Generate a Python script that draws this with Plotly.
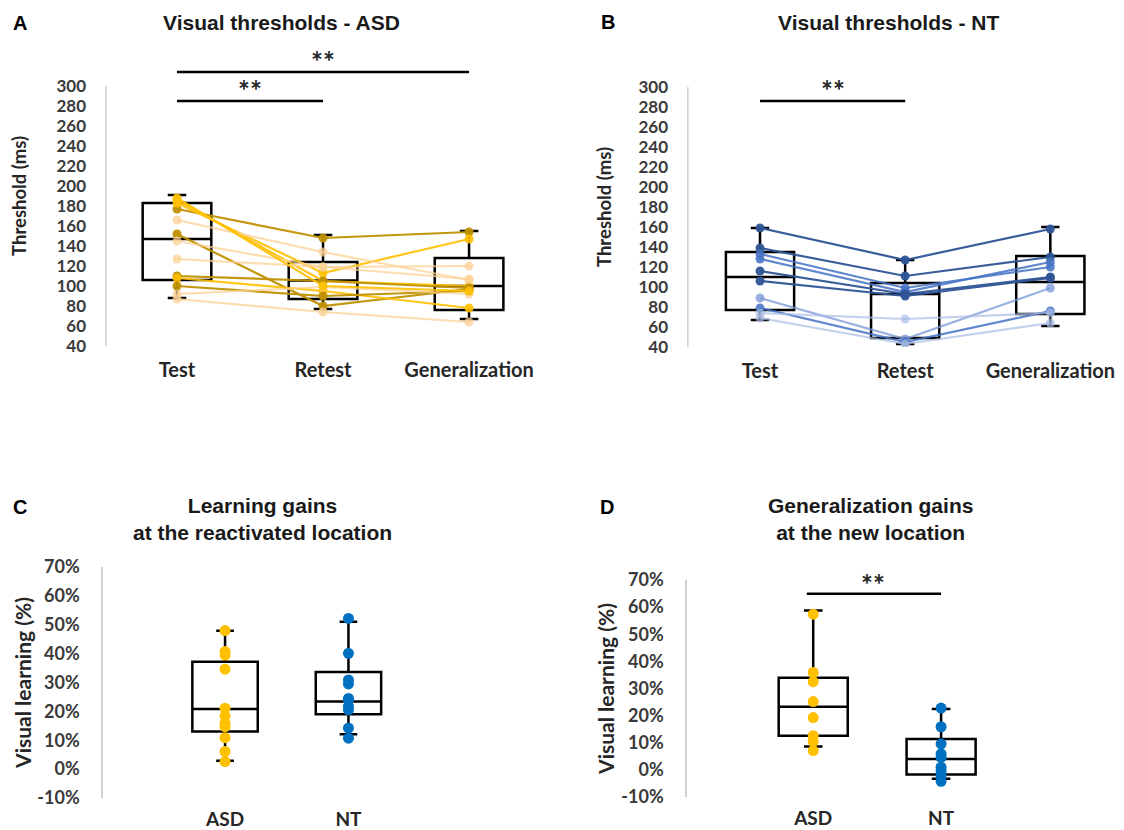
import plotly.graph_objects as go

W, H = 1124, 830

# ---------------- data ----------------
phases = ["Test", "Retest", "Generalization"]

# Panel A: ASD individual thresholds (ms)
asd_test = [177, 186, 183, 166, 152, 145, 127, 110, 108, 100, 92, 87, 188]
asd_retest = [148, 105, 113, 134, 80, 119, 119, 105, 95, 90, 99, 74, 100]
asd_general = [154, 100, 147, 106, 97, 120, 107, 98, 78, 95, 92, 64, 95]
asd_shade = ["dark", "mid", "mid", "light", "dark", "light", "light", "dark", "mid", "dark", "light", "light", "mid"]

# Panel A box statistics (Test, Retest, Generalization)
asd_q1 = [106, 87, 76]
asd_median = [147, 105.5, 100]
asd_q3 = [183, 124, 128]
asd_low = [88, 77, 67]
asd_high = [191, 151, 155]

# Panel B: NT individual thresholds (ms)
nt_test = [159, 139, 133, 128, 116, 106, 89, 79, 74, 69]
nt_retest = [127, 111, 99, 95, 93, 91, 48, 45, 68, 43]
nt_general = [158, 130, 120, 125, 110, 109, 99, 76, 74, 64]
nt_shade = ["dark", "dark", "mid", "mid", "dark", "dark", "light", "mid", "lighter", "lighter"]

nt_q1 = [77, 49, 73]
nt_median = [110, 93, 105]
nt_q3 = [135, 104, 131]
nt_low = [67, 43, 61]
nt_high = [159, 127, 160]

# Panel C: learning gains at the reactivated location (%)
groups = ["ASD", "NT"]
c_asd = [48, 40.7, 39.5, 34.6, 21.1, 18.4, 15.9, 14.7, 10.9, 6.1, 2.6]
c_nt = [52.2, 40.1, 30.9, 29.5, 24.5, 24, 21.7, 20.5, 14.2, 10.7]
c_q1 = [13, 19]
c_median = [20.8, 23.4]
c_q3 = [37.2, 33.6]
c_low = [2.9, 12.1]
c_high = [47.9, 51]

# Panel D: generalization gains at the new location (%)
d_asd = [57.4, 35.9, 32.5, 25.2, 19.3, 12.6, 10.5, 7.1]
d_nt = [22.8, 15.9, 9.6, 5.9, 4.6, 1.0, -0.3, -2.1, -4.2]
d_q1 = [12.6, -1.7]
d_median = [23.3, 4]
d_q3 = [34, 11.4]
d_low = [8.6, -3.3]
d_high = [58.8, 22.4]

ms_ticks = list(range(40, 301, 20))
pct_ticks = list(range(-10, 71, 10))
pct_labels = [f"{v}%" for v in pct_ticks]

# ---------------- styles ----------------
asd_colors = {"dark": "rgba(191,144,0,0.95)", "mid": "rgba(255,192,0,0.9)", "light": "rgba(252,210,150,0.75)"}
nt_colors = {"dark": "rgba(47,85,151,0.95)", "mid": "rgba(68,114,196,0.85)",
             "light": "rgba(120,150,215,0.75)", "lighter": "rgba(170,190,230,0.7)"}
ASD_DOT = "#FFC000"
NT_DOT = "#0070C0"
AXIS_GRAY = "#d0d0d0"
TICK_FONT_AB = dict(family="Lato", size=17, color="#3a3a3a", weight="bold")
TICK_FONT_CD = dict(family="Lato", size=18, color="#3a3a3a", weight="bold")
XTICK_FONT = dict(family="Lato", size=20, color="#262626", weight="bold")
XTICK_FONT_CD = dict(family="Lato", size=19, color="#262626", weight="bold")
TITLE_FONT_AB = dict(family="Lato", size=18.5, color="#262626", weight="bold")
TITLE_FONT_CD = dict(family="Lato", size=21, color="#262626", weight="bold")
HEAD_FONT = dict(family="Liberation Sans", size=21, color="#1a1a1a", weight="bold")
LETTER_FONT = dict(family="Liberation Sans", size=20, color="#000000", weight="bold")
STAR_FONT = dict(family="Lato", size=28, color="#262626", weight="bold")


def xdom(l, r):
    return [l / W, r / W]


def ydom(bottom_px, top_px):
    return [(H - bottom_px) / H, (H - top_px) / H]


fig = go.Figure()


def add_lines(test, retest, gen, shades, cmap, xa, ya):
    for t, r, g, s in zip(test, retest, gen, shades):
        fig.add_trace(go.Scatter(
            x=[0, 1, 2], y=[t, r, g], mode="lines+markers",
            line=dict(color=cmap[s], width=2.2),
            marker=dict(color=cmap[s], size=9),
            xaxis=xa, yaxis=ya, showlegend=False, hoverinfo="skip"))


def add_box(xs, q1, med, q3, lo, hi, width, xa, ya):
    fig.add_trace(go.Box(
        x=xs, q1=q1, median=med, q3=q3, lowerfence=lo, upperfence=hi,
        boxpoints=False, width=width, whiskerwidth=0.27,
        line=dict(color="black", width=2.5), fillcolor="rgba(0,0,0,0)",
        xaxis=xa, yaxis=ya, showlegend=False, hoverinfo="skip"))


def add_dots(xval, vals, color, xa, ya):
    fig.add_trace(go.Scatter(
        x=[xval] * len(vals), y=vals, mode="markers",
        marker=dict(color=color, size=11),
        xaxis=xa, yaxis=ya, showlegend=False, hoverinfo="skip"))


# Panel A
add_lines(asd_test, asd_retest, asd_general, asd_shade, asd_colors, "x", "y")
add_box([0, 1, 2], asd_q1, asd_median, asd_q3, asd_low, asd_high, 0.47, "x", "y")
# Panel B
add_lines(nt_test, nt_retest, nt_general, nt_shade, nt_colors, "x2", "y2")
add_box([0, 1, 2], nt_q1, nt_median, nt_q3, nt_low, nt_high, 0.47, "x2", "y2")
# Panel C
add_box([0, 1], c_q1, c_median, c_q3, c_low, c_high, 0.53, "x3", "y3")
add_dots(0, c_asd, ASD_DOT, "x3", "y3")
add_dots(1, c_nt, NT_DOT, "x3", "y3")
# Panel D
add_box([0, 1], d_q1, d_median, d_q3, d_low, d_high, 0.54, "x4", "y4")
add_dots(0, d_asd, ASD_DOT, "x4", "y4")
add_dots(1, d_nt, NT_DOT, "x4", "y4")


def xaxis_cfg(dom, rng, labels, anchor, standoff, font):
    return dict(domain=dom, range=rng, tickvals=list(range(len(labels))), ticktext=labels,
                showgrid=False, zeroline=False, showline=False, ticks="",
                tickfont=font, ticklabelstandoff=standoff, anchor=anchor,
                automargin=False, fixedrange=True)


def yaxis_cfg(dom, rng, tickvals, ticktext, tfont, title, titlefont, anchor, showline, standoff):
    return dict(domain=dom, range=rng, tickvals=tickvals, ticktext=ticktext,
                showgrid=False, zeroline=False, showline=showline, linecolor=AXIS_GRAY, linewidth=1.5,
                ticks="", tickfont=tfont, ticklabelstandoff=18,
                title=dict(text=title, font=titlefont, standoff=standoff), anchor=anchor,
                automargin=False, fixedrange=True)


A_left = -0.493
B_left = -0.503
C_left = -0.989
D_left = -0.987

fig.update_layout(
    width=W, height=H, margin=dict(l=0, r=0, t=0, b=0),
    paper_bgcolor="white", plot_bgcolor="white",
    xaxis=xaxis_cfg(xdom(105, 545), [A_left, 2.52], phases, "y", 10, XTICK_FONT),
    yaxis=yaxis_cfg(ydom(346, 46), [40, 340], ms_ticks, [str(v) for v in ms_ticks], TICK_FONT_AB,
                    "Threshold (ms)", TITLE_FONT_AB, "x", False, 24),
    xaxis2=xaxis_cfg(xdom(687, 1120), [B_left, 2.48], phases, "y2", 10, XTICK_FONT),
    yaxis2=yaxis_cfg(ydom(347, 67), [40, 320], ms_ticks, [str(v) for v in ms_ticks], TICK_FONT_AB,
                     "Threshold (ms)", TITLE_FONT_AB, "x2", False, 21),
    xaxis3=xaxis_cfg(xdom(103, 441), [C_left, 1.75], groups, "y3", 8, XTICK_FONT_CD),
    yaxis3=yaxis_cfg(ydom(798, 567), [-10, 70], pct_ticks, pct_labels, TICK_FONT_CD,
                     "Visual learning (%)", TITLE_FONT_CD, "x3", True, 0),
    xaxis4=xaxis_cfg(xdom(687, 1037), [D_left, 1.75], groups, "y4", 8, XTICK_FONT_CD),
    yaxis4=yaxis_cfg(ydom(797, 580), [-10, 70], pct_ticks, pct_labels, TICK_FONT_CD,
                     "Visual learning (%)", TITLE_FONT_CD, "x4", True, 1),
)

shapes = [
    # y axis lines for A and B (drawn only over the labelled range)
    dict(type="line", xref="x", yref="y", x0=A_left + 0.006, x1=A_left + 0.006, y0=40, y1=300,
         line=dict(color=AXIS_GRAY, width=1.5)),
    dict(type="line", xref="x2", yref="y2", x0=B_left + 0.006, x1=B_left + 0.006, y0=40, y1=300,
         line=dict(color=AXIS_GRAY, width=1.5)),
    # significance bars
    dict(type="line", xref="x", yref="y", x0=0, x1=2, y0=314, y1=314, line=dict(color="black", width=2.5)),
    dict(type="line", xref="x", yref="y", x0=0, x1=1, y0=285, y1=285, line=dict(color="black", width=2.5)),
    dict(type="line", xref="x2", yref="y2", x0=0, x1=1, y0=286, y1=286, line=dict(color="black", width=2.5)),
    dict(type="line", xref="x4", yref="y4", x0=-0.05, x1=1.0, y0=64.9, y1=64.9, line=dict(color="black", width=2.5)),
]
fig.update_layout(shapes=shapes)

annotations = [
    dict(text="**", xref="x", yref="y", x=1, y=325, showarrow=False, font=STAR_FONT),
    dict(text="**", xref="x", yref="y", x=0.5, y=296, showarrow=False, font=STAR_FONT),
    dict(text="**", xref="x2", yref="y2", x=0.5, y=297, showarrow=False, font=STAR_FONT),
    dict(text="**", xref="x4", yref="y4", x=0.47, y=68.5, showarrow=False, font=STAR_FONT),
]

heads = [
    ("A", 20, 23, LETTER_FONT), ("B", 608, 22, LETTER_FONT),
    ("C", 20, 507, LETTER_FONT), ("D", 607, 507, LETTER_FONT),
    ("Visual thresholds - ASD", 281, 23, HEAD_FONT),
    ("Visual thresholds - NT", 888, 23, HEAD_FONT),
    ("Learning gains<br>at the reactivated location", 262, 519, HEAD_FONT),
    ("Generalization gains<br>at the new location", 870, 519, HEAD_FONT),
]
for text, px, py, f in heads:
    annotations.append(dict(text=text, xref="paper", yref="paper", x=px / W, y=(H - py) / H,
                            xanchor="center", yanchor="middle", showarrow=False, font=f))
fig.update_layout(annotations=annotations)

fig.write_html("out.html", config={"displayModeBar": False},
               post_script="document.body.style.margin='0px';")
